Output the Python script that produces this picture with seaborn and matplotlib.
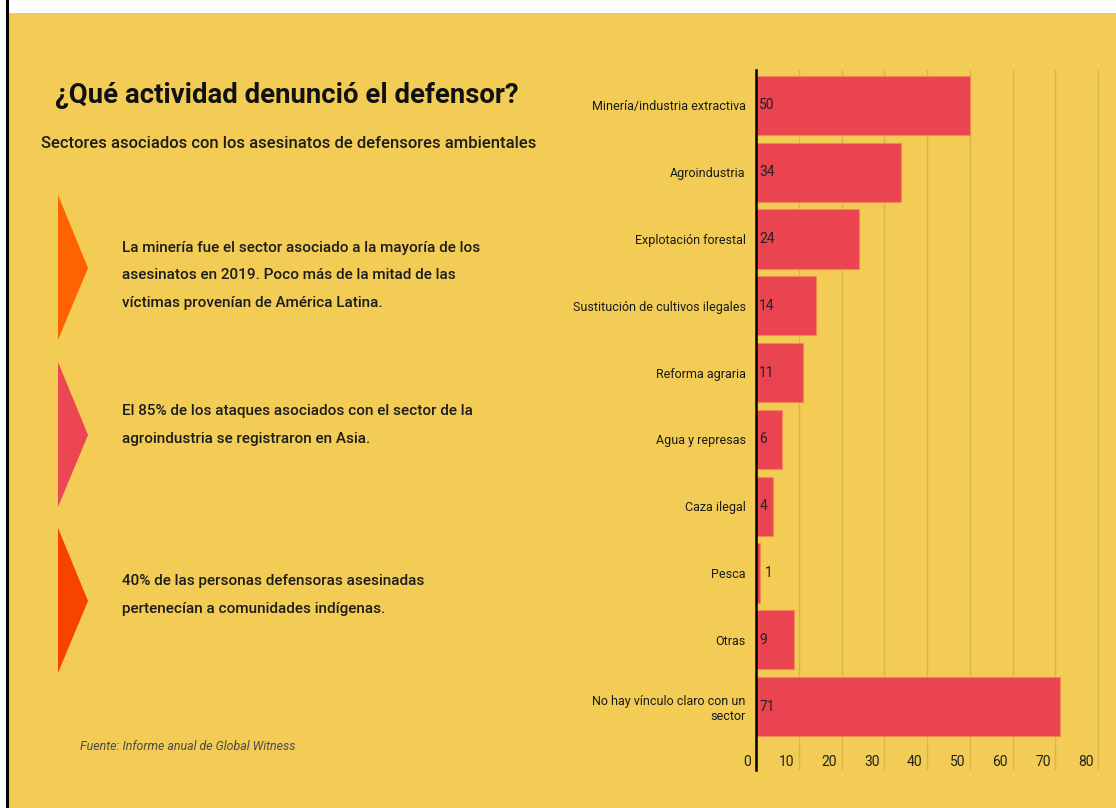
import matplotlib
matplotlib.use("Agg")
import matplotlib.pyplot as plt
from matplotlib import font_manager
from matplotlib.patches import Polygon, Rectangle
from matplotlib.lines import Line2D
from matplotlib.transforms import ScaledTranslation
import seaborn as sns
import pandas as pd

# ---- data -------------------------------------------------------------
sectores = [
    "Minería/industria extractiva",
    "Agroindustria",
    "Explotación forestal",
    "Sustitución de cultivos ilegales",
    "Reforma agraria",
    "Agua y represas",
    "Caza ilegal",
    "Pesca",
    "Otras",
    "No hay vínculo claro con un\nsector",
]
asesinatos = [50, 34, 24, 14, 11, 6, 4, 1, 9, 71]
ticks_x = [0, 10, 20, 30, 40, 50, 60, 70, 80]

titulo = "¿Qué actividad denunció el defensor?"
subtitulo = "Sectores asociados con los asesinatos de defensores ambientales"
notas = [
    "La minería fue el sector asociado a la mayoría de los\n"
    "asesinatos en 2019. Poco más de la mitad de las\n"
    "víctimas provenían de América Latina.",
    "El 85% de los ataques asociados con el sector de la\n"
    "agroindustria se registraron en Asia.",
    "40% de las personas defensoras asesinadas\n"
    "pertenecían a comunidades indígenas.",
]
fuente = "Fuente: Informe anual de Global Witness"

# ---- style ------------------------------------------------------------
AMARILLO = "#F2CC55"
ROJO = "#EA4450"
FLECHAS = ["#FF6200", "#EB4652", "#F74300"]
GRID = "#D9B64C"

sns.set_style("white")
installed = {f.name for f in font_manager.fontManager.ttflist}
NARROW = "Liberation Sans Narrow" if "Liberation Sans Narrow" in installed else "Roboto"
plt.rcParams["font.family"] = ["Roboto", "DejaVu Sans"]

W, H = 1116, 808
fig = plt.figure(figsize=(W / 100, H / 100), dpi=100, facecolor="white")


def fx(px):
    return px / W


def fy(py):
    return 1 - py / H


# page background and left rule (kept beneath the axes)
fig.patches.append(Rectangle((fx(8), 0), 1 - fx(8), fy(13), transform=fig.transFigure,
                             facecolor=AMARILLO, edgecolor="none", zorder=-2))
fig.lines.append(Line2D([fx(7), fx(7)], [0, 1], transform=fig.transFigure,
                        color="black", lw=2.2, zorder=-1))

# ---- bar chart --------------------------------------------------------
df = pd.DataFrame({"sector": sectores, "asesinatos": asesinatos})
ax = fig.add_axes([fx(756), fy(770), (W - 756) / W, 700 / H])
ax.set_facecolor("none")
sns.barplot(data=df, x="asesinatos", y="sector", orient="h", color=ROJO,
            saturation=1, width=0.885, edgecolor="#F08A52", linewidth=0.8, ax=ax)

ax.set_xlim(0, 84.2)
ax.set_ylim(9.95, -0.53)
ax.set_xlabel("")
ax.set_ylabel("")
ax.set_xticks(ticks_x)
ax.set_xticklabels([str(t) for t in ticks_x])
ax.grid(axis="x", color=GRID, lw=1.0)
ax.grid(axis="y", visible=False)
ax.set_axisbelow(True)
for side in ("top", "right", "bottom"):
    ax.spines[side].set_visible(False)
ax.spines["left"].set_color("black")
ax.spines["left"].set_linewidth(1.8)
ax.spines["left"].set_zorder(5)

ax.tick_params(axis="y", length=0, pad=7.5, labelsize=9, labelcolor="#1a1a1a")
ax.tick_params(axis="x", length=0, pad=0, labelsize=10, labelcolor="#222222")
for lab in ax.get_yticklabels():
    lab.set_fontfamily(NARROW)
shift = ScaledTranslation(-0.045, 0.08, fig.dpi_scale_trans)
for lab in ax.get_xticklabels():
    lab.set_fontfamily(NARROW)
    lab.set_ha("right")
    lab.set_va("center")
    lab.set_transform(lab.get_transform() + shift)

# value labels: inside the bar at its base, or just past the end of a very short bar
for i, v in enumerate(asesinatos):
    inside = v >= 3
    ax.annotate(str(v), xy=(0 if inside else v, i), xytext=(2.4 if inside else 3.2, 0),
                textcoords="offset points", ha="left", va="center", fontsize=10,
                color="#222222", family=NARROW, zorder=6)

# ---- left panel -------------------------------------------------------
fig.text(fx(55), fy(103), titulo, fontsize=19.8, weight="bold", color="#111111",
         ha="left", va="baseline")
fig.text(fx(41), fy(148), subtitulo, fontsize=12, weight="medium", color="#1c1c1c",
         ha="left", va="baseline")

tri_y = [(195, 268, 340), (362, 435, 507), (528, 601, 673)]
base_y = [252, 415, 585]
for (top, tip, bot), color, nota, by in zip(tri_y, FLECHAS, notas, base_y):
    fig.patches.append(Polygon([(fx(58), fy(top)), (fx(88), fy(tip)), (fx(58), fy(bot))],
                               closed=True, transform=fig.transFigure,
                               facecolor=color, edgecolor="none", zorder=2))
    for k, linea in enumerate(nota.split("\n")):
        fig.text(fx(122), fy(by + 27.5 * k), linea, fontsize=11, weight="medium",
                 color="#1c1c1c", ha="left", va="baseline")

fig.text(fx(80), fy(750), fuente, fontsize=8.9, style="italic", color="#4a4a4a",
         ha="left", va="baseline")

fig.savefig("out.png", dpi=100, facecolor=fig.get_facecolor())
